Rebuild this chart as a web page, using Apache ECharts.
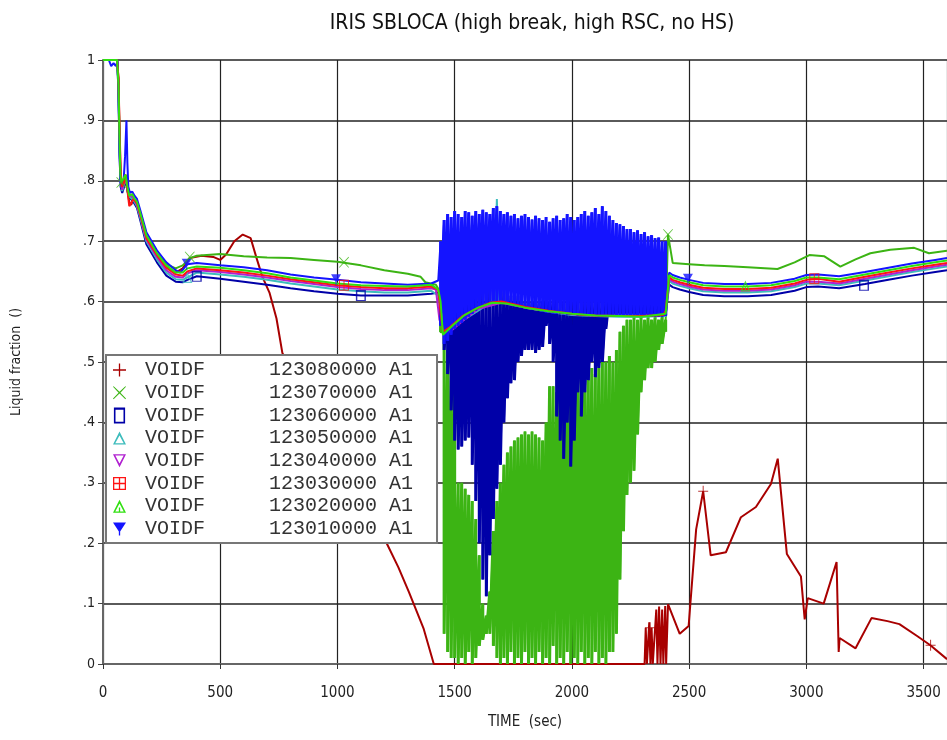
<!DOCTYPE html>
<html><head><meta charset="utf-8">
<script src="https://cdn.jsdelivr.net/npm/echarts@6/dist/echarts.min.js"></script>
<style>html,body{margin:0;padding:0;background:#fff}#c{width:947px;height:740px}</style>
</head><body><div id="c"></div>
<script>
// ---------- data ----------
const TITLE = 'IRIS SBLOCA (high break, high RSC, no HS)';
const X_NAME = 'TIME  (sec)';
const Y_NAME = 'Liquid fraction  ()';
const NAMES = ['123080000','123070000','123060000','123050000','123040000','123030000','123020000','123010000'];
const X_TICKS = [0,500,1000,1500,2000,2500,3000,3500];
const Y_TICKS = ['0','.1','.2','.3','.4','.5','.6','.7','.8','.9','1'];

// oscillation period sample times (s)
const OSC_T = [1440,1455,1470,1485,1500,1515,1530,1545,1560,1575,1590,1605,1620,
  1635,1650,1665,1680,1695,1710,1725,1740,1755,1770,1785,1800,1815,
  1830,1845,1860,1875,1890,1905,1920,1935,1950,1965,1980,1995,2010,
  2025,2040,2055,2070,2085,2100,2115,2130,2145,2160,2175,2190,2205,
  2220,2235,2250,2265,2280,2295,2310,2325,2340,2355,2370,2385,2400];
// 123010000 oscillation envelope (upper band)
const HI_010 = [.70,.735,.745,.74,.75,.745,.74,.75,.748,.742,.75,.745,.752,
  .748,.745,.755,.758,.75,.745,.748,.742,.745,.738,.742,.745,.74,
  .736,.742,.738,.735,.74,.732,.738,.742,.735,.738,.745,.74,.735,
  .74,.745,.75,.742,.748,.755,.745,.758,.75,.742,.735,.73,.728,
  .725,.72,.72,.715,.718,.712,.715,.708,.71,.705,.706,.70,.70];
const LO_010 = [.56,.53,.535,.545,.555,.56,.565,.57,.575,.58,.585,.59,.593,
  .596,.598,.598,.60,.598,.598,.597,.595,.594,.592,.59,.59,.588,
  .587,.586,.585,.583,.582,.582,.58,.58,.58,.579,.578,.578,.578,
  .577,.577,.577,.576,.576,.576,.575,.575,.575,.575,.575,.575,.575,
  .575,.575,.575,.575,.575,.575,.575,.575,.575,.575,.575,.575,.576];
// 123060000 oscillation envelope (deep dips)
const HI_060 = [.62,.60,.60,.61,.61,.62,.62,.63,.62,.62,.63,.63,.62,
  .63,.63,.62,.63,.62,.62,.62,.61,.61,.61,.61,.60,.60,
  .60,.61,.60,.60,.61,.60,.60,.61,.60,.60,.61,.60,.60,
  .61,.60,.60,.61,.60,.60,.61,.60,.60,.61,.60,.60,.61,
  .60,.60,.61,.60,.60,.61,.60,.60,.61,.60,.60,.61,.60];
const LO_060 = [.58,.52,.48,.42,.37,.355,.36,.37,.375,.33,.27,.20,.14,
  .112,.18,.24,.29,.33,.40,.44,.465,.47,.50,.51,.52,.52,
  .52,.515,.52,.525,.56,.53,.50,.41,.37,.34,.40,.327,.37,
  .45,.41,.45,.47,.50,.475,.49,.50,.555,.575,.578,.578,.578,
  .578,.578,.578,.578,.578,.578,.578,.578,.578,.578,.578,.578,.578];
// 123070000 oscillation envelope (0 .. 0.6)
const HI_070 = [.60,.55,.52,.50,.48,.30,.30,.29,.28,.27,.24,.18,.10,
  .08,.12,.22,.27,.30,.33,.35,.36,.37,.375,.38,.385,.38,
  .385,.38,.375,.37,.40,.46,.46,.45,.47,.47,.46,.47,.46,
  .47,.48,.47,.48,.49,.48,.49,.50,.50,.51,.50,.52,.55,
  .56,.57,.57,.575,.57,.575,.57,.575,.57,.575,.57,.575,.57];
const LO_070 = [.55,.05,.02,.01,.01,0,.01,0,.02,0,.01,.03,.04,
  .05,.05,.03,.01,0,.01,0,.02,0,.01,0,.02,0,
  .01,0,.02,0,.01,0,.03,0,.01,0,.02,0,.01,
  0,.02,0,.01,0,.02,0,.01,0,.02,.02,.05,.14,
  .22,.28,.30,.32,.38,.45,.47,.49,.49,.50,.52,.53,.55];

// before the oscillation
const PRE_010 = [[0,1],[25,1],[35,.99],[45,.995],[55,.99],[62,.998],[66,.95],[70,.86],[74,.80],[80,.79],[88,.80],[94,.84],[100,.90],[104,.83],[108,.79],[115,.78],[125,.782],[135,.775],[145,.77],[160,.75],[185,.715],[230,.685],[270,.665],[310,.652],[330,.648],[345,.655],[360,.662],[400,.664],[500,.66],[600,.657],[700,.652],[800,.645],[900,.64],[1000,.636],[1100,.632],[1200,.63],[1300,.628],[1400,.63],[1430,.635]];
const PRE_020 = [[0,1],[60,1],[66,.96],[70,.88],[74,.81],[78,.797],[86,.80],[96,.81],[104,.79],[112,.775],[125,.778],[135,.77],[145,.765],[160,.745],[185,.71],[230,.68],[270,.66],[310,.648],[340,.648],[360,.655],[400,.658],[500,.656],[600,.652],[700,.647],[800,.64],[900,.635],[1000,.63],[1100,.627],[1200,.626],[1300,.625],[1400,.628],[1430,.62]];
const PRE_030 = [[0,1],[60,1],[66,.97],[70,.9],[75,.82],[80,.79],[88,.795],[96,.81],[104,.785],[112,.758],[120,.757],[130,.77],[145,.762],[160,.742],[185,.705],[230,.677],[270,.656],[310,.645],[340,.643],[360,.65],[400,.655],[500,.652],[600,.648],[700,.643],[800,.637],[900,.632],[1000,.627],[1100,.624],[1200,.622],[1300,.622],[1400,.625],[1430,.62]];
const PRE_040 = [[0,1],[60,1],[66,.96],[70,.87],[75,.80],[82,.785],[90,.80],[100,.805],[108,.78],[118,.775],[130,.772],[145,.76],[160,.74],[185,.703],[230,.674],[270,.652],[310,.641],[340,.64],[360,.647],[400,.652],[500,.649],[600,.645],[700,.64],[800,.634],[900,.629],[1000,.624],[1100,.621],[1200,.619],[1300,.619],[1400,.622],[1420,.62],[1435,.57]];
const PRE_050 = [[0,1],[60,1],[66,.95],[70,.86],[75,.80],[82,.783],[90,.795],[100,.80],[108,.775],[118,.772],[130,.768],[145,.758],[160,.737],[185,.70],[230,.67],[270,.648],[310,.637],[340,.636],[360,.64],[400,.648],[500,.645],[600,.641],[700,.636],[800,.63],[900,.625],[1000,.62],[1100,.617],[1200,.615],[1300,.615],[1400,.618],[1430,.61]];
const PRE_060 = [[0,1],[60,1],[66,.95],[70,.85],[75,.79],[82,.78],[90,.79],[100,.80],[108,.775],[118,.77],[130,.765],[145,.755],[160,.733],[185,.695],[230,.665],[270,.643],[310,.633],[340,.632],[360,.636],[400,.642],[500,.638],[600,.633],[700,.628],[800,.622],[900,.617],[1000,.613],[1100,.61],[1200,.61],[1300,.61],[1400,.613],[1430,.615]];
const PRE_070 = [[0,1],[60,1],[66,.96],[70,.87],[75,.80],[80,.795],[88,.80],[96,.81],[104,.785],[112,.77],[125,.772],[135,.768],[145,.762],[160,.742],[185,.708],[230,.68],[270,.662],[310,.655],[340,.66],[370,.672],[400,.676],[500,.679],[600,.675],[700,.673],[800,.672],[900,.669],[1000,.666],[1100,.66],[1200,.652],[1300,.646],[1355,.641],[1375,.632],[1420,.628],[1432,.62]];
// 123080000 whole curve
const ALL_080 = [[0,1],[60,1],[66,.97],[70,.89],[75,.81],[80,.79],[88,.80],[96,.81],[104,.785],[112,.765],[120,.76],[130,.77],[145,.762],[160,.742],[185,.706],[230,.678],[270,.658],[310,.648],[340,.655],[370,.672],[420,.676],[470,.674],[500,.669],[525,.678],[560,.70],[596,.711],[630,.705],[655,.672],[680,.641],[710,.615],[740,.572],[765,.515],[1210,.2],[1260,.16],[1305,.119],[1368,.058],[1411,0],[2310,0],[2315,.06],[2320,0],[2330,.069],[2335,0],[2340,.06],[2345,0],[2360,.09],[2365,0],[2372,.095],[2378,0],[2385,.09],[2390,0],[2398,.096],[2402,0],[2410,.099],[2460,.05],[2498,.063],[2530,.223],[2560,.286],[2592,.18],[2657,.185],[2721,.243],[2785,.26],[2849,.298],[2878,.34],[2917,.182],[2977,.145],[2993,.074],[3006,.109],[3074,.10],[3129,.169],[3138,.02],[3142,.043],[3210,.026],[3278,.076],[3346,.071],[3397,.066],[3474,.046],[3529,.031],[3600,.008]];

// other nodes during the oscillation (lower edge of the band)
const OSC_050 = [[1440,.58],[1460,.55],[1500,.56],[1560,.575],[1620,.59],[1670,.60],[1680,.77],[1690,.60],[1800,.59],[1900,.583],[2000,.578],[2100,.576],[2200,.575],[2300,.575],[2400,.576]];
const OSC_040 = [[1445,.56],[1480,.55],[1540,.57],[1600,.588],[1700,.598],[1800,.59],[1900,.584],[2000,.579],[2100,.577],[2200,.576],[2300,.576],[2400,.578]];
const OSC_030 = [[1440,.58],[1450,.55],[1480,.558],[1530,.575],[1590,.588],[1650,.598],[1700,.60],[1760,.595],[1800,.591],[1900,.585],[2000,.58],[2050,.578],[2100,.577],[2200,.576],[2300,.576],[2390,.578],[2400,.585]];
const OSC_020 = [[1440,.6],[1450,.545],[1490,.56],[1540,.577],[1600,.59],[1660,.598],[1720,.597],[1800,.59],[1900,.584],[2000,.58],[2100,.577],[2200,.576],[2300,.575],[2400,.58]];

// after the oscillation
const POST_T = [2415,2430,2460,2500,2560,2650,2750,2850,2950,3000,3050,3140,3250,3350,3450,3550,3600];
const POST_010 = [.648,.644,.64,.636,.631,.629,.629,.631,.638,.644,.645,.642,.649,.656,.663,.669,.672];
const POST_020 = [.644,.64,.636,.632,.627,.625,.625,.627,.634,.64,.64,.637,.645,.652,.659,.665,.668];
const POST_030 = [.64,.636,.632,.628,.623,.621,.621,.623,.63,.636,.638,.633,.641,.648,.655,.661,.664];
const POST_040 = [.637,.633,.629,.625,.62,.618,.618,.62,.627,.633,.633,.63,.638,.645,.652,.658,.661];
const POST_050 = [.634,.63,.626,.622,.617,.615,.615,.617,.624,.63,.63,.627,.635,.642,.649,.655,.658];
const POST_060 = [.628,.624,.62,.616,.611,.609,.609,.611,.618,.624,.625,.622,.629,.636,.643,.649,.652];
const POST_070 = [[2400,.57],[2410,.711],[2430,.664],[2500,.662],[2566,.66],[2650,.659],[2750,.657],[2877,.654],[2950,.665],[3013,.677],[3077,.675],[3145,.658],[3210,.67],[3273,.68],[3358,.686],[3460,.689],[3523,.68],[3600,.684]];

// sparse plot markers
const MK_080 = [[2333,.06],[2560,.286],[3530,.031]];
const MK_070 = [[78,.797],[370,.674],[1028,.665],[2410,.711]];
const MK_060 = [[400,.642],[1100,.61],[3246,.627]];
const MK_050 = [[360,.64]];
const MK_030 = [[1028,.627],[3034,.638]];
const MK_020 = [[2740,.626]];
const MK_010 = [[357,.662],[994,.636],[2495,.637]];

// ---------- build ----------
const COLORS = {'123080000':'#a80000','123070000':'#3cb414','123060000':'#0000a8','123050000':'#3cbcbc',
  '123040000':'#b020d0','123030000':'#ff1414','123020000':'#30e010','123010000':'#1414ff'};
const ICONS = {
  '123080000':'path://M9,0H11V9H20V11H11V20H9V11H0V9H9Z',
  '123070000':'path://M1,0L10,8.6L19,0L20,1L11.4,10L20,19L19,20L10,11.4L1,20L0,19L8.6,10L0,1Z',
  '123060000':'path://M3,0H17V20H3Z M5,3V18H15V3Z',
  '123050000':'path://M10,0L20,20H0Z M10,6L3.5,18H16.5Z',
  '123040000':'path://M0,0H20L10,20Z M3.5,2L10,14L16.5,2Z',
  '123030000':'path://M0,0H20V20H0Z M2,2V9H9V2Z M11,2V9H18V2Z M2,11V18H9V11Z M11,11V18H18V11Z',
  '123020000':'path://M10,0L20,20H0Z M10,6L3.5,18H9V12H11V18H16.5Z',
  '123010000':'path://M0,0H20L11,14V20H9V14Z'
};
function zig(hi, lo){ const out=[]; for(let i=0;i<OSC_T.length;i++){ out.push([OSC_T[i],hi[i]]); out.push([OSC_T[i],lo[i]]); } return out; }
function post(vals){ return POST_T.map((t,i)=>[t,vals[i]]); }

const ZIG = {'123070000':zig(HI_070,LO_070),'123060000':zig(HI_060,LO_060),'123010000':zig(HI_010,LO_010)};
const DATA = {
  '123080000': ALL_080,
  '123070000': PRE_070.concat(ZIG['123070000'], POST_070),
  '123060000': PRE_060.concat(ZIG['123060000'], post(POST_060)),
  '123050000': PRE_050.concat(OSC_050, post(POST_050)),
  '123040000': PRE_040.concat(OSC_040, post(POST_040)),
  '123030000': PRE_030.concat(OSC_030, post(POST_030)),
  '123020000': PRE_020.concat(OSC_020, post(POST_020)),
  '123010000': PRE_010.concat(ZIG['123010000'], post(POST_010))
};
const MARKS = {'123080000':MK_080,'123070000':MK_070,'123060000':MK_060,'123050000':MK_050,'123030000':MK_030,'123020000':MK_020,'123010000':MK_010};
const DRAW_ORDER = ['123080000','123070000','123060000','123050000','123040000','123010000','123030000','123020000'];

const series = [];
DRAW_ORDER.forEach(n=>{
  series.push({name:n,type:'line',data:DATA[n],showSymbol:false,symbol:'none',
    lineStyle:{width:2,color:COLORS[n]},
    itemStyle:{color:COLORS[n]},emphasis:{disabled:true},silent:true,z:2});
  if (ZIG[n]) {
    series.push({name:n,type:'line',data:ZIG[n],showSymbol:false,symbol:'none',
      lineStyle:{width:3,color:COLORS[n]},
      itemStyle:{color:COLORS[n]},emphasis:{disabled:true},silent:true,z:2});
  }
});
Object.keys(MARKS).forEach(n=>{
  series.push({name:'m'+n,type:'scatter',data:MARKS[n],symbol:ICONS[n],symbolSize:[10,11],
    itemStyle:{color:COLORS[n]},silent:true,z:3});
});

const SANS = "'Liberation Sans Narrow','DejaVu Sans Condensed',sans-serif";
const chart = echarts.init(document.getElementById('c'),null,{renderer:'canvas'});
chart.setOption({
  animation:false,
  backgroundColor:'#ffffff',
  title:{text:TITLE,left:527,top:8,textAlign:'center',
    textStyle:{fontFamily:SANS,fontSize:21,fontWeight:'normal',color:'#111'}},
  grid:{left:103,top:60,width:847,height:604,containLabel:false},
  xAxis:{type:'value',min:0,max:3600,interval:500,
    name:X_NAME,nameLocation:'middle',nameGap:51,
    nameTextStyle:{fontFamily:SANS,fontSize:15,color:'#222'},
    axisLine:{show:true,onZero:false,lineStyle:{color:'#666',width:2}},
    axisTick:{show:true,length:5,inside:false,lineStyle:{color:'#333',width:1}},
    axisLabel:{margin:22,showMaxLabel:false,fontFamily:SANS,fontSize:15,color:'#222',
      formatter:v=>X_TICKS.indexOf(v)>=0?String(v):''},
    splitLine:{show:true,lineStyle:{color:'#222',width:1.2}}},
  yAxis:{type:'value',min:0,max:1,interval:0.1,
    name:Y_NAME,nameLocation:'middle',nameGap:80,nameRotate:90,
    nameTextStyle:{fontFamily:SANS,fontSize:14,color:'#222'},
    axisLine:{show:true,lineStyle:{color:'#666',width:2}},
    axisTick:{show:true,length:5,lineStyle:{color:'#444',width:1}},
    axisLabel:{margin:8,fontFamily:SANS,fontSize:14,color:'#222',
      formatter:v=>Y_TICKS[Math.round(v*10)]},
    splitLine:{show:true,lineStyle:{color:'#5a5a5a',width:1.8}}},
  legend:{orient:'vertical',left:106,top:355,selectedMode:false,
    backgroundColor:'#ffffff',borderColor:'#777',borderWidth:2,
    padding:[5,24,4,7],itemWidth:13,itemHeight:16,itemGap:2.7,
    data:NAMES.map(n=>({name:n,icon:ICONS[n]})),
    formatter:n=>'{a|VOIDF}{b|'+n+' A1}',
    textStyle:{color:'#333',fontFamily:"'Liberation Mono','DejaVu Sans Mono',monospace",fontSize:20,lineHeight:18,
      rich:{a:{width:124,padding:[0,0,0,14],fontFamily:"'Liberation Mono',monospace",fontSize:20,color:'#333'},
            b:{fontFamily:"'Liberation Mono',monospace",fontSize:20,color:'#333'}}}},
  series:series
});
</script></body></html>
